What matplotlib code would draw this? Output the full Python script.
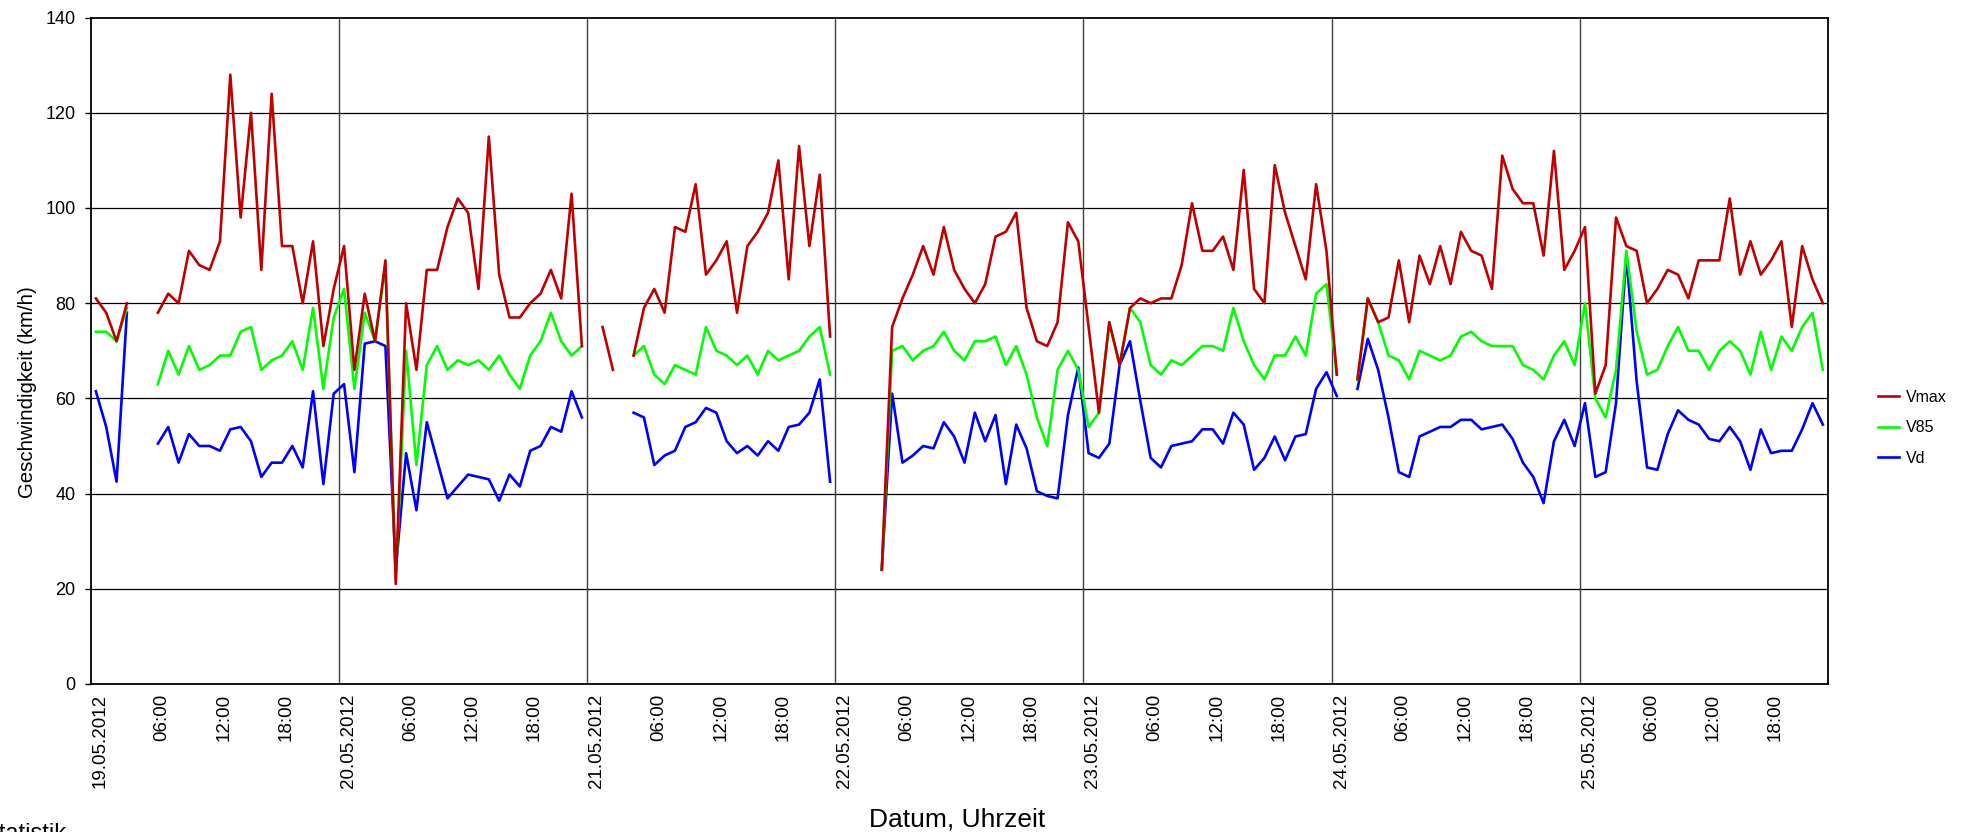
import numpy as np
import matplotlib
matplotlib.use('Agg')
import matplotlib.pyplot as plt
from matplotlib import transforms

plt.rcParams['font.family'] = ['Liberation Sans', 'DejaVu Sans']

nan = np.nan

# hourly values, 19.05.2012 00:00 - 25.05.2012 24:00 (nan = no data)
vmax = [81, 78, 72, 80, nan, nan, 78, 82, 80, 91, 88, 87, 93, 128, 98, 120, 87, 124, 92, 92, 80, 93, 71, 83,
        92, 66, 82, 72, 89, 21, 80, 66, 87, 87, 96, 102, 99, 83, 115, 86, 77, 77, 80, 82, 87, 81, 103, 71,
        nan, 75, 66, nan, 69, 79, 83, 78, 96, 95, 105, 86, 89, 93, 78, 92, 95, 99, 110, 85, 113, 92, 107, 73,
        nan, nan, nan, nan, 24, 75, 81, 86, 92, 86, 96, 87, 83, 80, 84, 94, 95, 99, 79, 72, 71, 76, 97, 93,
        75, 57, 76, 67, 79, 81, 80, 81, 81, 88, 101, 91, 91, 94, 87, 108, 83, 80, 109, 99, 92, 85, 105, 91,
        65, nan, 64, 81, 76, 77, 89, 76, 90, 84, 92, 84, 95, 91, 90, 83, 111, 104, 101, 101, 90, 112, 87, 91,
        96, 61, 67, 98, 92, 91, 80, 83, 87, 86, 81, 89, 89, 89, 102, 86, 93, 86, 89, 93, 75, 92, 85, 80]

v85 = [74, 74, 72, 79, nan, nan, 63, 70, 65, 71, 66, 67, 69, 69, 74, 75, 66, 68, 69, 72, 66, 79, 62, 77,
       83, 62, 78, 72, 88, 22, 70, 46, 67, 71, 66, 68, 67, 68, 66, 69, 65, 62, 69, 72, 78, 72, 69, 71,
       nan, nan, nan, nan, 69, 71, 65, 63, 67, 66, 65, 75, 70, 69, 67, 69, 65, 70, 68, 69, 70, 73, 75, 65,
       nan, nan, nan, nan, 24, 70, 71, 68, 70, 71, 74, 70, 68, 72, 72, 73, 67, 71, 65, 56, 50, 66, 70, 66,
       54, 57, 76, 67, 79, 76, 67, 65, 68, 67, 69, 71, 71, 70, 79, 72, 67, 64, 69, 69, 73, 69, 82, 84,
       65, nan, 64, 81, 76, 69, 68, 64, 70, 69, 68, 69, 73, 74, 72, 71, 71, 71, 67, 66, 64, 69, 72, 67,
       80, 60, 56, 66, 91, 74, 65, 66, 71, 75, 70, 70, 66, 70, 72, 70, 65, 74, 66, 73, 70, 75, 78, 66]

vd = [61.5, 54, 42.5, 78, nan, nan, 50.5, 54, 46.5, 52.5, 50, 50, 49, 53.5, 54, 51, 43.5, 46.5, 46.5, 50, 45.5, 61.5, 42, 61,
      63, 44.5, 71.5, 72, 71, 24, 48.5, 36.5, 55, 47, 39, 41.5, 44, 43.5, 43, 38.5, 44, 41.5, 49, 50, 54, 53, 61.5, 56,
      nan, nan, nan, nan, 57, 56, 46, 48, 49, 54, 55, 58, 57, 51, 48.5, 50, 48, 51, 49, 54, 54.5, 57, 64, 42.5,
      nan, nan, nan, nan, 24, 61, 46.5, 48, 50, 49.5, 55, 52, 46.5, 57, 51, 56.5, 42, 54.5, 49.5, 40.5, 39.5, 39, 56.5, 66.5,
      48.5, 47.5, 50.5, 67, 72, 59.5, 47.5, 45.5, 50, 50.5, 51, 53.5, 53.5, 50.5, 57, 54.5, 45, 47.5, 52, 47, 52, 52.5, 62, 65.5,
      60.5, nan, 62, 72.5, 66, 56, 44.5, 43.5, 52, 53, 54, 54, 55.5, 55.5, 53.5, 54, 54.5, 51.5, 46.5, 43.5, 38, 51, 55.5, 50,
      59, 43.5, 44.5, 59, 90, 63.5, 45.5, 45, 52.5, 57.5, 55.5, 54.5, 51.5, 51, 54, 51, 45, 53.5, 48.5, 49, 49, 53.5, 59, 54.5]

days = ['19.05.2012', '20.05.2012', '21.05.2012', '22.05.2012', '23.05.2012', '24.05.2012', '25.05.2012']
times = ['06:00', '12:00', '18:00']

tick_labels = []
for d in days:
    tick_labels += [d] + times

# values are hourly means, drawn in the middle of each hour
hours = np.arange(len(vmax)) + 0.5

W, H = 1975, 832
fig = plt.figure(figsize=(W / 100, H / 100), dpi=100)
ax = fig.add_axes([90.7 / W, (H - 684) / H, (1828 - 90.7) / W, (684 - 17.6) / H])

ax.plot(hours, vd, color='#0000ff', lw=1.9, label='Vd', zorder=3)
ax.plot(hours, v85, color='#00ff00', lw=1.9, label='V85', zorder=4)
ax.plot(hours, vmax, color='#c00000', lw=1.9, label='Vmax', zorder=5)

ax.set_xlim(0, 24 * len(days))
ax.set_ylim(0, 140)
ax.set_yticks(range(0, 141, 20))
for y in range(20, 140, 20):
    ax.axhline(y, color='black', lw=0.9, zorder=1)
for x in range(24, 24 * len(days), 24):
    ax.axvline(x, color='#404040', lw=1.0, zorder=1)

ax.set_xticks(np.arange(0, 24 * len(days), 6))
ax.set_xticklabels(tick_labels, rotation=90, fontsize=13.5, va='top', ha='center')
ax.tick_params(axis='x', length=0, pad=7)
ax.tick_params(axis='y', length=4, width=1, labelsize=13, pad=7)
offset = transforms.ScaledTranslation(9.5 / 100, 0, fig.dpi_scale_trans)
for lbl in ax.get_xticklabels():
    lbl.set_transform(lbl.get_transform() + offset)

for s in ax.spines.values():
    s.set_linewidth(1.3)

fig.text(27.7 / W, (H - 392) / H, 'Geschwindigkeit (km/h)', rotation=90,
         fontsize=14.7, ha='center', va='center')
fig.text(957 / W, (H - 819) / H, 'Datum, Uhrzeit', fontsize=19, ha='center', va='center')
fig.text(-16 / W, -8 / H, 'Statistik', fontsize=17, ha='left', va='baseline')

handles, labels = ax.get_legend_handles_labels()
ax.legend(handles[::-1], labels[::-1], loc='center left',
          bbox_to_anchor=(1864 / W, (H - 428) / H), bbox_transform=fig.transFigure,
          frameon=False, fontsize=11.5, handlelength=1.3, handletextpad=0.4, labelspacing=0.97)

fig.savefig('out.png', dpi=100)
